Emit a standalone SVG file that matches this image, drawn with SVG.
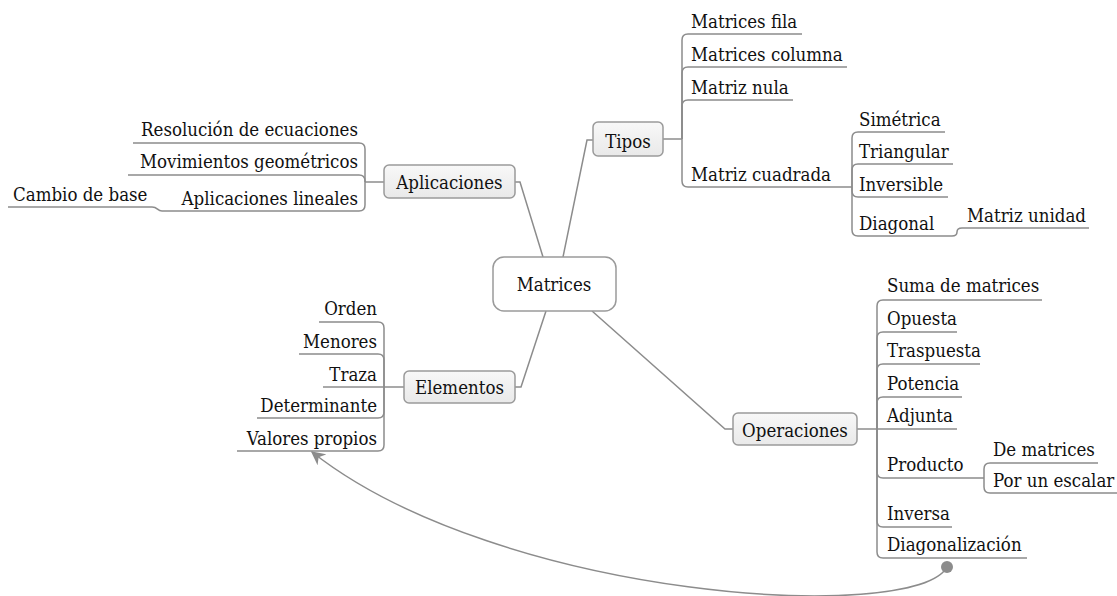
<svg xmlns="http://www.w3.org/2000/svg" width="1117" height="596" viewBox="0 0 1117 596">
<style>
.t{font-family:'DejaVu Serif Condensed','DejaVu Serif',serif;font-stretch:condensed;font-size:18.5px;fill:#111}
.c{text-anchor:middle}
.e{text-anchor:end}
.ln{fill:none;stroke:#8c8c8c;stroke-width:1.5}
.box{fill:url(#g);stroke:#9a9a9a;stroke-width:1.5}
.main{fill:#fff;stroke:#9a9a9a;stroke-width:1.5}
</style>
<defs>
<linearGradient id="g" x1="0" y1="0" x2="0" y2="1">
<stop offset="0" stop-color="#f8f8f8"/>
<stop offset="1" stop-color="#e9e9e9"/>
</linearGradient>
<marker id="arr" viewBox="0 0 10 10" refX="9" refY="5" markerWidth="14" markerHeight="14" markerUnits="userSpaceOnUse" orient="auto">
<path d="M0,0 L10,5 L0,10 L3,5 Z" fill="#8c8c8c"/>
</marker>
</defs>
<rect width="1117" height="596" fill="#fff"/>
<g id="connectors">
<path class="ln" d="M563,257 L587,140 H593"/>
<path class="ln" d="M543,257 L520,182 H515"/>
<path class="ln" d="M546,311 L521,387 H515"/>
<path class="ln" d="M592,311 L725,429 H733"/>
<path class="ln" d="M663,139 H682"/>
<path class="ln" d="M682,139 V40 Q682,34 688,34 H802"/>
<path class="ln" d="M682,139 V73 Q682,67 688,67 H847"/>
<path class="ln" d="M682,139 V106 Q682,100 688,100 H793"/>
<path class="ln" d="M682,139 V181 Q682,187 688,187 H852"/>
<path class="ln" d="M852,187 V138 Q852,132 858,132 H945"/>
<path class="ln" d="M852,187 V170 Q852,164 858,164 H953"/>
<path class="ln" d="M852,187 V191 Q852,197 858,197 H948"/>
<path class="ln" d="M852,187 V230 Q852,236 858,236 H952 Q957,236 957,232 Q957,228 962,228 H1089"/>
<path class="ln" d="M384,182 H365"/>
<path class="ln" d="M365,182 V149 Q365,143 359,143 H133"/>
<path class="ln" d="M365,182 V181 Q365,175 359,175 H128"/>
<path class="ln" d="M365,182 V205 Q365,211 359,211 H162 C157,211 158,207 152,207 H8"/>
<path class="ln" d="M404,387 H384"/>
<path class="ln" d="M384,387 V328 Q384,322 378,322 H319"/>
<path class="ln" d="M384,387 V360 Q384,354 378,354 H299"/>
<path class="ln" d="M384,387 H323"/>
<path class="ln" d="M384,387 V412 Q384,418 378,418 H257"/>
<path class="ln" d="M384,387 V445 Q384,451 378,451 H237"/>
<path class="ln" d="M857,429 H877"/>
<path class="ln" d="M877,429 V306 Q877,300 883,300 H1042"/>
<path class="ln" d="M877,429 V338 Q877,332 883,332 H957"/>
<path class="ln" d="M877,429 V370 Q877,364 883,364 H980"/>
<path class="ln" d="M877,429 V403 Q877,397 883,397 H962"/>
<path class="ln" d="M877,429 H957"/>
<path class="ln" d="M877,429 V472 Q877,478 883,478 H984"/>
<path class="ln" d="M877,429 V521 Q877,527 883,527 H952"/>
<path class="ln" d="M877,429 V552 Q877,558 883,558 H1027"/>
<path class="ln" d="M984,478 V469 Q984,463 990,463 H1098"/>
<path class="ln" d="M984,478 V487 Q984,493 990,493 H1117"/>
<path class="ln" d="M947,567 C915,625 500,600 312,452" marker-end="url(#arr)"/>
<circle cx="947" cy="567" r="6" fill="#8c8c8c"/>
</g>
<g id="n-matrices"><rect class="main" x="493" y="257" width="123" height="54" rx="11"/><text class="t c" x="554" y="291" fill="#333">Matrices</text></g>
<g id="n-tipos"><rect class="box" x="593" y="122" width="70" height="34" rx="5"/><text class="t c" x="628" y="148">Tipos</text></g>
<g id="n-aplicaciones"><rect class="box" x="384" y="165" width="131" height="33" rx="5"/><text class="t c" x="449.5" y="189">Aplicaciones</text></g>
<g id="n-elementos"><rect class="box" x="404" y="371" width="111" height="32" rx="5"/><text class="t c" x="459.5" y="394">Elementos</text></g>
<g id="n-operaciones"><rect class="box" x="733" y="413" width="124" height="32" rx="5"/><text class="t c" x="795" y="437">Operaciones</text></g>
<g id="n-matrices-fila"><text class="t" x="691" y="28">Matrices fila</text></g>
<g id="n-matrices-columna"><text class="t" x="691" y="61">Matrices columna</text></g>
<g id="n-matriz-nula"><text class="t" x="691" y="94">Matriz nula</text></g>
<g id="n-matriz-cuadrada"><text class="t" x="691" y="181">Matriz cuadrada</text></g>
<g id="n-simetrica"><text class="t" x="859" y="126">Simétrica</text></g>
<g id="n-triangular"><text class="t" x="859" y="158">Triangular</text></g>
<g id="n-inversible"><text class="t" x="859" y="191">Inversible</text></g>
<g id="n-diagonal"><text class="t" x="859" y="230">Diagonal</text></g>
<g id="n-matriz-unidad"><text class="t" x="967" y="222">Matriz unidad</text></g>
<g id="n-resolucion"><text class="t e" x="358" y="136">Resolución de ecuaciones</text></g>
<g id="n-movimientos"><text class="t e" x="358" y="168">Movimientos geométricos</text></g>
<g id="n-aplicaciones-lineales"><text class="t e" x="358" y="205">Aplicaciones lineales</text></g>
<g id="n-cambio-base"><text class="t" x="13" y="201">Cambio de base</text></g>
<g id="n-orden"><text class="t e" x="377" y="315">Orden</text></g>
<g id="n-menores"><text class="t e" x="377" y="348">Menores</text></g>
<g id="n-traza"><text class="t e" x="377" y="381">Traza</text></g>
<g id="n-determinante"><text class="t e" x="377" y="412">Determinante</text></g>
<g id="n-valores-propios"><text class="t e" x="377" y="445">Valores propios</text></g>
<g id="n-suma"><text class="t" x="887" y="292">Suma de matrices</text></g>
<g id="n-opuesta"><text class="t" x="887" y="325">Opuesta</text></g>
<g id="n-traspuesta"><text class="t" x="887" y="357">Traspuesta</text></g>
<g id="n-potencia"><text class="t" x="887" y="390">Potencia</text></g>
<g id="n-adjunta"><text class="t" x="887" y="422">Adjunta</text></g>
<g id="n-producto"><text class="t" x="887" y="471">Producto</text></g>
<g id="n-de-matrices"><text class="t" x="993" y="456">De matrices</text></g>
<g id="n-por-escalar"><text class="t" x="993" y="487">Por un escalar</text></g>
<g id="n-inversa"><text class="t" x="887" y="520">Inversa</text></g>
<g id="n-diagonalizacion"><text class="t" x="887" y="551">Diagonalización</text></g>
</svg>
